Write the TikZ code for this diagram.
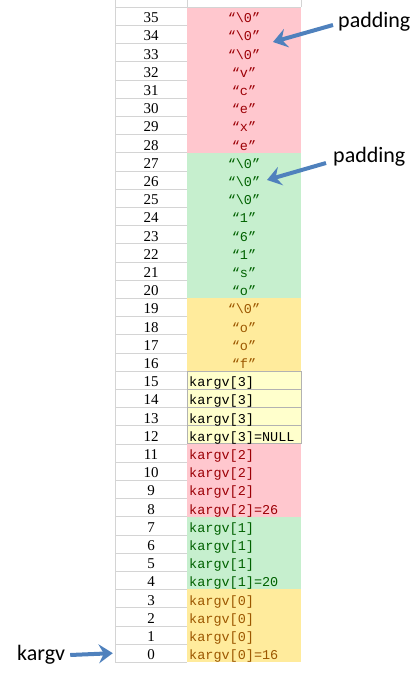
\documentclass[tikz,border=0pt]{standalone}
\usepackage{fontspec}
\setmonofont{Liberation Mono}
\newfontfamily\padfont{Carlito}
\newfontfamily\numfont{Liberation Serif}
\usetikzlibrary{arrows.meta}

\definecolor{pinkbg}{HTML}{FFC7CE}
\definecolor{pinkfg}{HTML}{9C0006}
\definecolor{greenbg}{HTML}{C6EFCE}
\definecolor{greenfg}{HTML}{006100}
\definecolor{yellowbg}{HTML}{FFEB9C}
\definecolor{yellowfg}{HTML}{9C5700}
\definecolor{notebg}{HTML}{FFFFCC}
\definecolor{noteline}{HTML}{B2B2B2}
\definecolor{gridgray}{HTML}{D4D4D4}
\definecolor{arrowblue}{HTML}{4F81BD}

\newcommand{\zch}{\textbackslash0}

\begin{document}
\begin{tikzpicture}[x=1pt, y=-1pt,
  celltxt/.style={font=\ttfamily\fontsize{13.5}{15}\selectfont, inner sep=0pt,
    minimum height=18.2pt, text height=13pt, text depth=0pt},
  numtxt/.style={celltxt, font=\numfont\fontsize{15}{16}\selectfont, minimum width=72pt},
  strtxt/.style={celltxt},
  argtxt/.style={celltxt, anchor=west},
  padtxt/.style={font=\padfont\fontsize{22}{24}\selectfont, inner sep=0pt, anchor=west},
  padarrow/.style={arrowblue, line width=4pt, -{Stealth[length=14pt,width=19pt,inset=5pt]}},
  notecell/.style={draw=noteline, fill=notebg, line width=0.8pt}]
\useasboundingbox (0,0) rectangle (417,673);

% colour bands of the value column
\fill[pinkbg]   (187,7)     rectangle (301,152.6);
\fill[greenbg]  (187,152.6) rectangle (301,298.2);
\fill[yellowbg] (187,298.2) rectangle (301,371);
\fill[pinkbg]   (187,443.8) rectangle (301,516.6);
\fill[greenbg]  (187,516.6) rectangle (301,589.4);
\fill[yellowbg] (187,589.4) rectangle (301,662.2);
\foreach \i in {12,...,15}
  \draw[notecell] (187, {7+(35-\i)*18.2}) rectangle (301, {7+(36-\i)*18.2});

% grid of the index column
\foreach \k in {0,...,36}
  \draw[gridgray] (115, {7+\k*18.2}) -- (187, {7+\k*18.2});
\draw[gridgray] (187,7) -- (301,7);
\draw[gridgray] (115,0) -- (115,662.2);
\draw[gridgray] (187,0) -- (187,7);
\draw[gridgray] (301,0) -- (301,7);

% index numbers
\foreach \i in {0,...,35}
  \node[numtxt] (n\i) at (151, {7+(35.5-\i)*18.2}) {\i};

% string bytes
\foreach \i/\s/\c in {35/\zch/pinkfg, 34/\zch/pinkfg, 33/\zch/pinkfg, 32/v/pinkfg,
    31/c/pinkfg, 30/e/pinkfg, 29/x/pinkfg, 28/e/pinkfg,
    27/\zch/greenfg, 26/\zch/greenfg, 25/\zch/greenfg, 24/1/greenfg,
    23/6/greenfg, 22/1/greenfg, 21/s/greenfg, 20/o/greenfg,
    19/\zch/yellowfg, 18/o/yellowfg, 17/o/yellowfg, 16/f/yellowfg}
  \node[strtxt, text=\c] (v\i) at (244, {7+(35.5-\i)*18.2}) {“\s”};

% argv pointers
\foreach \i/\s/\c in {15/{kargv[3]}/black, 14/{kargv[3]}/black, 13/{kargv[3]}/black,
    12/{kargv[3]=NULL}/black,
    11/{kargv[2]}/pinkfg, 10/{kargv[2]}/pinkfg, 9/{kargv[2]}/pinkfg, 8/{kargv[2]=26}/pinkfg,
    7/{kargv[1]}/greenfg, 6/{kargv[1]}/greenfg, 5/{kargv[1]}/greenfg, 4/{kargv[1]=20}/greenfg,
    3/{kargv[0]}/yellowfg, 2/{kargv[0]}/yellowfg, 1/{kargv[0]}/yellowfg, 0/{kargv[0]=16}/yellowfg}
  \node[argtxt, text=\c] (v\i) at (189, {7+(35.5-\i)*18.2}) {\s};

% labels and arrows
\node[padtxt] (pad1) at (338,22) {padding};
\node[padtxt] (pad2) at (333,157) {padding};
\node[padtxt] (kname) at (17,655) {kargv};
\coordinate (tip1) at (273,42);
\coordinate (tip2) at (267,180);
\draw[padarrow] ([shift={(-5,3)}]pad1.west) -- (tip1);
\draw[padarrow] ([shift={(-7,6)}]pad2.west) -- (tip2);
\draw[padarrow, shorten >=2pt] ([xshift=5pt]kname.east) -- (n0.west);
\end{tikzpicture}
\end{document}
